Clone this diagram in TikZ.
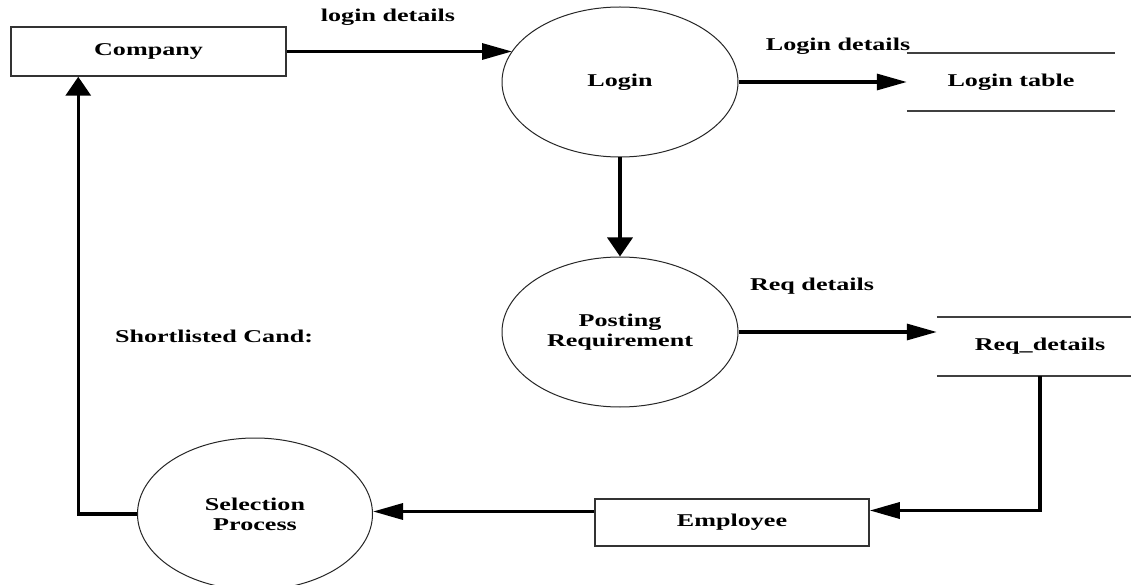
\documentclass[tikz,border=0pt]{standalone}
\usepackage{fontspec}
\newfontfamily\labfont{Liberation Serif}[FakeStretch=1.45]
\usetikzlibrary{shapes.geometric,arrows.meta}
\tikzset{
  lab/.style={font=\labfont\bfseries\fontsize{18}{20}\selectfont, inner sep=0pt, align=center},
  entity/.style={draw=black!80, line width=1.5pt, rectangle, inner sep=0pt, lab},
  proc/.style={draw=black!85, line width=1pt, ellipse, inner sep=0pt, minimum width=236pt, minimum height=150pt, lab},
  store/.style={rectangle, inner sep=0pt, lab},
  storeline/.style={draw=black!75, line width=1.5pt},
  flow/.style={line width=3.2pt, -{Triangle[length=30pt,width=16pt]}},
  vflow/.style={line width=3.6pt, -{Triangle[length=19pt,width=25pt]}},
}
\begin{document}
\begin{tikzpicture}[x=1pt,y=-1pt]
\useasboundingbox[fill=white] (0,0) rectangle (1133,585);

% entities and processes
\node[entity, minimum width=275pt, minimum height=49pt] (comp) at (148.5,51.5) {Company};
\node[proc] (login) at (620,82) {Login};
\node[proc] (post) at (620,332) {Posting\\Requirement};
\node[proc, minimum width=235pt, minimum height=152pt] (sel) at (255,514) {Selection\\Process};
\node[entity, minimum width=274pt, minimum height=47pt] (emp) at (732,522.5) {Employee};

% data stores
\node[store, minimum width=208pt, minimum height=58pt] (lt) at (1011,82) {Login table};
\draw[storeline] (lt.north west) -- (lt.north east);
\draw[storeline] (lt.south west) -- (lt.south east);
\node[store, minimum width=194pt, minimum height=59pt] (rd) at (1034,346.5) {\hspace*{12pt}Req\_details};
\draw[storeline] (rd.north west) -- (rd.north east);
\draw[storeline] (rd.south west) -- (rd.south east);

% flow labels
\node[lab] (l1) at (388,17) {login details};
\node[lab] (l2) at (838,46) {Login details};
\node[lab] (l3) at (812,286) {Req details};
\node[lab] (l4) at (214,336) {Shortlisted Cand:};

% flows
\draw[flow] (comp.east) -- ([xshift=10.5pt]comp.east -| login.west);
\draw[flow] (login.east) -- (lt.west);
\draw[vflow] (login.south) -- (post.north);
\draw[flow] (post.east) -- (post.east -| rd.west);
\draw[line width=3.4pt, -{Triangle[length=30pt,width=16pt]}]
  ([xshift=6pt]rd.south) |- ([yshift=12pt]emp.east);
\draw[flow] ([yshift=11pt]emp.west) -- ([yshift=11pt]emp.west -| sel.east);
\draw[line width=3.4pt, -{Triangle[length=19pt,width=25pt]}]
  (sel.west) -| ([xshift=68pt]comp.south west);
\end{tikzpicture}
\end{document}
